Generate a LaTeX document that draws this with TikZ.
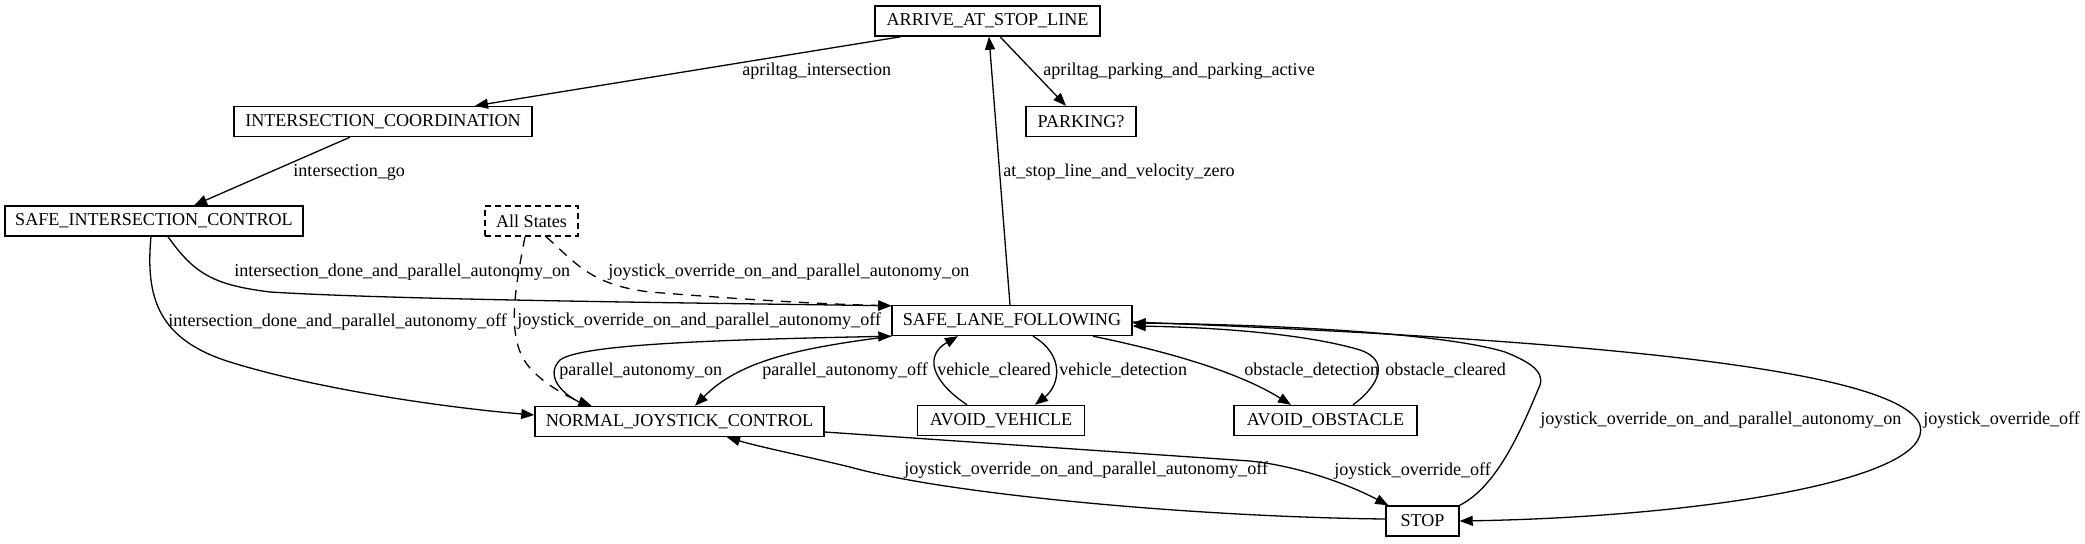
\documentclass[tikz,border=0pt]{standalone}
\usepackage{fontspec}
\setmainfont{Liberation Serif}
\usetikzlibrary{arrows.meta,calc}
\begin{document}
\begin{tikzpicture}[x=0.5pt,y=-0.5pt,
  font=\fontsize{9.05pt}{11pt}\selectfont,
  state/.style={draw, line width=0.7pt, rectangle, minimum height=15pt, inner xsep=1pt, inner ysep=0pt},
  dstate/.style={state, dash pattern=on 3pt off 2pt},
  lbl/.style={anchor=west, inner sep=0pt},
  conn/.style={draw, line width=0.65pt, -{Triangle[length=6.5pt,width=5pt]}},
  dconn/.style={conn, dash pattern=on 5pt off 4pt}]
\fill[white] (0,0) rectangle (2085,543);
\useasboundingbox (0,0) rectangle (2085,543);

% states
\node[state, minimum width=112.5pt] (ARR) at (987.5,21) {ARRIVE\_AT\_STOP\_LINE};
\node[state, minimum width=149pt] (IC) at (383,121.5) {INTERSECTION\_COORDINATION};
\node[state, minimum width=55pt] (PARK) at (1081,121.5) {PARKING?};
\node[state, minimum width=149pt] (SIC) at (154,221) {SAFE\_INTERSECTION\_CONTROL};
\node[dstate, minimum width=46.5pt] (ALL) at (531.5,221) {All States};
\node[state, minimum width=120pt] (SLF) at (1012,320.5) {SAFE\_LANE\_FOLLOWING};
\node[state, minimum width=144.5pt] (NJC) at (679.5,421.5) {NORMAL\_JOYSTICK\_CONTROL};
\node[state, minimum width=83.5pt] (AV) at (1001,420.5) {AVOID\_VEHICLE};
\node[state, minimum width=91.5pt] (AO) at (1325.5,420.5) {AVOID\_OBSTACLE};
\node[state, minimum width=36.5pt] (STOP) at (1422.5,521) {STOP};

% connectors
\path[conn] ($(ARR.south)+(-86.5,0)$) -- ($(IC.north)+(92,0)$);
\path[conn] ($(ARR.south)+(12.5,0)$) -- ($(PARK.north)+(-15,0)$);
\path[conn] ($(IC.south)+(-33,0)$) -- ($(SIC.north)+(40,0)$);
\path[conn] ($(SLF.north)+(-2,0)$) -- ($(ARR.south)+(1.5,0)$);
\path[conn] ($(SIC.south)+(14,0)$) .. controls (195,275) and (215,285) .. (270,292)
  .. controls (400,300) and (700,303) .. ($(SLF.north west)+(0,1)$);
\path[conn] ($(SIC.south)+(-3,0)$) .. controls (145,300) and (160,340) .. (230,362)
  .. controls (320,390) and (450,408) .. ($(NJC.west)+(0,-6.5)$);
\path[dconn] ($(ALL.south)+(14.5,0)$) .. controls (575,262) and (590,285) .. (650,292)
  .. controls (750,300) and (820,304) .. ($(SLF.north west)+(0,1)$);
\path[dconn] ($(ALL.south)+(-6.5,0)$) .. controls (515,290) and (505,340) .. (530,368)
  .. controls (545,385) and (570,398) .. ($(NJC.north)+(-88,0)$);
\path[conn] ($(NJC.north)+(-92,0)$) .. controls (560,395) and (545,375) .. (560,360)
  .. controls (580,345) and (700,340) .. (SLF.south west);
\path[conn] (SLF.south west) .. controls (800,348) and (740,360) .. ($(NJC.north)+(15.5,0)$);
\path[conn] ($(AV.north)+(-34,0)$) .. controls (930,380) and (925,355) .. ($(SLF.south)+(-54,0)$);
\path[conn] ($(SLF.south)+(21,0)$) .. controls (1065,355) and (1060,385) .. ($(AV.north)+(34,0)$);
\path[conn] ($(SLF.south)+(81,0)$) .. controls (1160,350) and (1235,370) .. ($(AO.north)+(-34.5,0)$);
\path[conn] ($(AO.north)+(27.5,0)$) .. controls (1380,385) and (1390,360) .. (1360,350)
  .. controls (1300,332) and (1200,327) .. ($(SLF.east)+(0,5.5)$);
\path[conn] (STOP.north east) .. controls (1500,485) and (1525,420) .. (1540,385)
  .. controls (1545,370) and (1525,360) .. (1505,352)
  .. controls (1450,335) and (1300,325) .. ($(SLF.east)+(0,2.5)$);
\path[conn] ($(SLF.east)+(0,1.5)$) .. controls (1600,340) and (1900,370) .. (1920,425)
  .. controls (1935,480) and (1700,517) .. (STOP.east);
\path[conn] ($(NJC.east)+(0,10.5)$) -- (1250,461) .. controls (1290,465) and (1340,480) .. ($(STOP.north west)+(3,0)$);
\path[conn] ($(STOP.west)+(0,-2)$) .. controls (1200,517) and (950,495) .. (850,467)
  .. controls (800,455) and (760,447) .. ($(NJC.south)+(47.5,0)$);

% labels
\node[lbl] (l1) at (742,71) {apriltag\_intersection};
\node[lbl] (l2) at (1043,71) {apriltag\_parking\_and\_parking\_active};
\node[lbl] (l3) at (293,172) {intersection\_go};
\node[lbl] (l4) at (1003,172) {at\_stop\_line\_and\_velocity\_zero};
\node[lbl] (l5) at (234,272) {intersection\_done\_and\_parallel\_autonomy\_on};
\node[lbl] (l6) at (608,272) {joystick\_override\_on\_and\_parallel\_autonomy\_on};
\node[lbl] (l7) at (168,322) {intersection\_done\_and\_parallel\_autonomy\_off};
\node[lbl] (l8) at (517,321) {joystick\_override\_on\_and\_parallel\_autonomy\_off};
\node[lbl] (l9) at (559,371) {parallel\_autonomy\_on};
\node[lbl] (l10) at (762,371) {parallel\_autonomy\_off};
\node[lbl] (l11) at (937,370) {vehicle\_cleared};
\node[lbl] (l12) at (1059,370) {vehicle\_detection};
\node[lbl] (l13) at (1244,370) {obstacle\_detection};
\node[lbl] (l14) at (1385,370) {obstacle\_cleared};
\node[lbl] (l15) at (1334,471) {joystick\_override\_off};
\node[lbl] (l16) at (904,470) {joystick\_override\_on\_and\_parallel\_autonomy\_off};
\node[lbl] (l17) at (1540,420) {joystick\_override\_on\_and\_parallel\_autonomy\_on};
\node[lbl] (l18) at (1923,420) {joystick\_override\_off};
\end{tikzpicture}
\end{document}
